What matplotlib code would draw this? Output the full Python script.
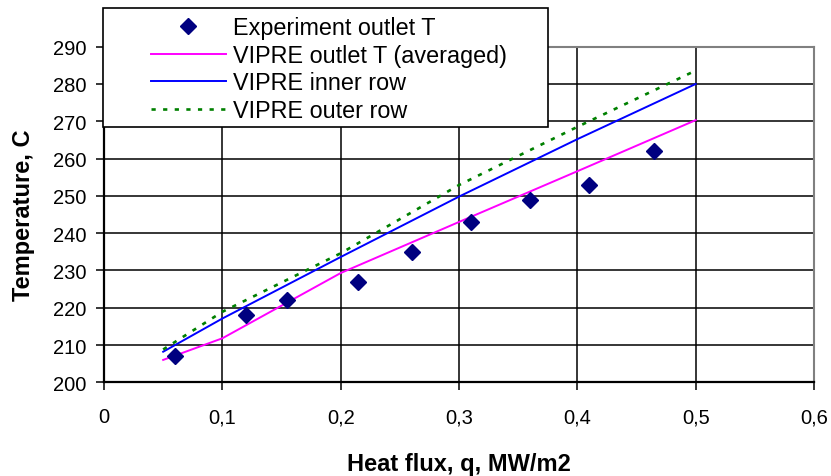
import numpy as np
import matplotlib.pyplot as plt
from matplotlib.lines import Line2D
from matplotlib.patches import Rectangle

plt.rcParams['font.family'] = ['Liberation Sans', 'DejaVu Sans']

# experiment points
q_exp = [0.06, 0.12, 0.155, 0.215, 0.26, 0.31, 0.36, 0.41, 0.465]
t_exp = [207, 218, 222, 227, 235, 243, 249, 253, 262]

# VIPRE results
q_vipre = [0.05, 0.1, 0.2, 0.3, 0.4, 0.5]
t_avg = [206.0, 211.8, 229.3, 243.0, 256.6, 270.3]
t_inner = [208.2, 217.1, 233.6, 249.8, 265.2, 280.0]
t_outer = [208.8, 218.9, 234.6, 252.9, 268.5, 283.6]

xticks = [0, 0.1, 0.2, 0.3, 0.4, 0.5, 0.6]
xlabels = ["0", "0,1", "0,2", "0,3", "0,4", "0,5", "0,6"]
yticks = list(range(200, 291, 10))

W, H = 831, 477
fig = plt.figure(figsize=(W / 100, H / 100), dpi=100)
ax = fig.add_axes([104 / W, 1 - 383.3 / H, 710 / W, 335.6 / H])

ax.plot(q_vipre, t_avg, color="#FF00FF", lw=1.4, zorder=3)
ax.plot(q_vipre, t_inner, color="#0000FF", lw=1.4, zorder=3)
ax.plot(q_vipre, t_outer, color="#008000", lw=1.9, dashes=(1.6, 2.8), zorder=3)
ax.plot(q_exp, t_exp, linestyle="none", marker="D", ms=7.8, color="#000080", zorder=4)

ax.set_xlim(0, 0.6)
ax.set_ylim(200, 290)
ax.set_xticks(xticks)
ax.set_xticklabels(xlabels)
ax.set_yticks(yticks)
ax.grid(True, color="black", lw=1.1)
ax.set_axisbelow(True)

for s in ["left", "bottom"]:
    ax.spines[s].set_color("black")
    ax.spines[s].set_linewidth(1.6)
for s in ["top", "right"]:
    ax.spines[s].set_color("#808080")
    ax.spines[s].set_linewidth(1.5)

ax.tick_params(axis="both", direction="out", length=5.8, width=1.1, labelsize=14.5)
ax.tick_params(axis="y", pad=7)
ax.tick_params(axis="x", pad=12)

ax.set_xlabel("Heat flux, q, MW/m2", fontsize=17, fontweight="bold", labelpad=19)
ax.set_ylabel("Temperature, C", fontsize=17, fontweight="bold", labelpad=13)

# legend box sits over the top left of the plot
box = Rectangle((103 / W, 1 - 128 / H), 445 / W, 119 / H, transform=fig.transFigure,
                facecolor="white", edgecolor="black", lw=1.2, zorder=5)
fig.patches.append(box)

handles = [
    Line2D([], [], linestyle="none", marker="D", ms=7.8, color="#000080"),
    Line2D([], [], color="#FF00FF", lw=1.4),
    Line2D([], [], color="#0000FF", lw=1.4),
    Line2D([], [], color="#008000", lw=1.9, dashes=(1.6, 2.8)),
]
names = ["Experiment outlet T", "VIPRE outlet T (averaged)", "VIPRE inner row", "VIPRE outer row"]
leg = fig.legend(handles, names, loc="upper left", bbox_to_anchor=(151 / W, 1 - 17 / H),
                 frameon=False, fontsize=16.8, borderpad=0, borderaxespad=0,
                 handlelength=3.2, handletextpad=0.3, labelspacing=0.2)
leg.set_zorder(6)

fig.savefig("out.png", dpi=100)
